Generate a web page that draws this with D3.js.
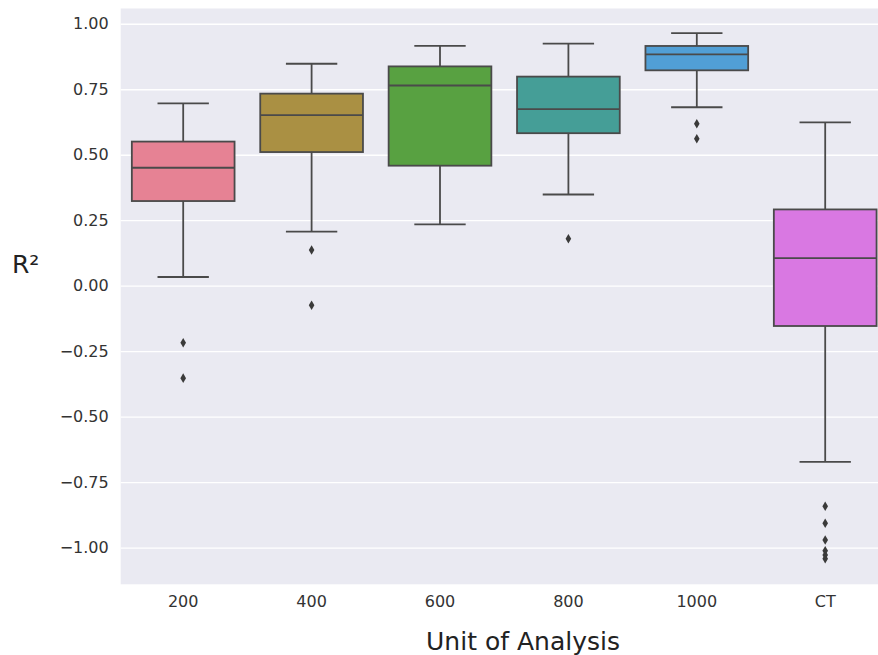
<!DOCTYPE html>
<html>
<head>
<meta charset="utf-8">
<script src="https://cdn.jsdelivr.net/npm/d3@7"></script>
<style>
  body { margin: 0; background: #fff; }
  svg { display: block; font-family: "DejaVu Sans", sans-serif; }
</style>
</head>
<body>
<div id="chart"></div>
<script>
// values
let categories = ["200", "400", "600", "800", "1000", "CT"];
let whiskerHigh = [0.696, 0.847, 0.915, 0.924, 0.964, 0.623];
let q3 = [0.550, 0.733, 0.837, 0.798, 0.915, 0.291];
let median = [0.450, 0.651, 0.764, 0.674, 0.883, 0.105];
let q1 = [0.323, 0.510, 0.458, 0.582, 0.822, -0.154];
let whiskerLow = [0.033, 0.206, 0.234, 0.348, 0.681, -0.673];
let outliers = [
    [-0.218, -0.353],
    [0.136, -0.075],
    [],
    [0.179],
    [0.618, 0.561],
    [-0.842, -0.907, -0.971, -1.012, -1.028, -1.042]
];
let yTicks = [1.00, 0.75, 0.50, 0.25, 0.00, -0.25, -0.50, -0.75, -1.00];
let palette = ["#f77189", "#bb9832", "#50b131", "#36ada4", "#3ba3ec", "#e866f4"];

let rows = categories.map((c, i) => ({
    name: c,
    hi: whiskerHigh[i], q3: q3[i], med: median[i], q1: q1[i], lo: whiskerLow[i],
    out: outliers[i]
}));

let width = 878;
let height = 655;
let plot = { left: 120.7, top: 8.5, bottom: 584.3 };
let font = "DejaVu Sans, sans-serif";

let x = d3.scaleBand()
    .domain(categories)
    .range([119, 889.4])
    .padding(0);

let y = d3.scaleLinear()
    .domain([-1.14, 1.058])
    .range([plot.bottom, plot.top]);

// seaborn boxplot desaturates its colours
function desat(c) {
    let h = d3.hsl(c);
    h.s *= 0.75;
    return h.formatHex();
}
let color = d3.scaleOrdinal().domain(categories).range(palette.map(desat));

let svg = d3.select("#chart")
    .append("svg")
    .attr("width", width)
    .attr("height", height);

svg.append("rect")
    .attr("x", plot.left)
    .attr("y", plot.top)
    .attr("width", width - plot.left)
    .attr("height", plot.bottom - plot.top)
    .attr("fill", "#eaeaf2");

let yAxis = g => g
    .attr("transform", `translate(${plot.left},0)`)
    .call(d3.axisLeft(y).tickValues(yTicks).tickSize(0).tickPadding(12))
    .attr("font-family", font)
    .attr("font-size", 16)
    .call(g => g.select(".domain").remove())
    .call(g => g.selectAll(".tick text")
        .attr("fill", "#333")
        .text(d => d3.format(".2f")(d).replace("-", "\u2212")))
    .call(g => g.selectAll(".tick line").clone()
        .attr("x2", width - plot.left)
        .attr("stroke", "#fff")
        .attr("stroke-width", 1.4));

let xAxis = g => g
    .attr("transform", `translate(0,${plot.bottom})`)
    .call(d3.axisBottom(x).tickSize(0).tickPadding(11))
    .attr("font-family", font)
    .attr("font-size", 16)
    .call(g => g.select(".domain").remove())
    .call(g => g.selectAll(".tick text").attr("fill", "#333"));

svg.append("g").call(yAxis);
svg.append("g").call(xAxis);

let boxW = x.bandwidth() * 0.8;
let capW = boxW / 2;
let line = "#4a4a4a";

let box = svg.append("g")
    .selectAll("g")
    .data(rows)
    .join("g")
    .attr("transform", d => `translate(${x(d.name) + x.bandwidth() / 2},0)`);

// whiskers
box.append("line")
    .attr("y1", d => y(d.q3)).attr("y2", d => y(d.hi))
    .attr("stroke", line).attr("stroke-width", 1.8);
box.append("line")
    .attr("y1", d => y(d.q1)).attr("y2", d => y(d.lo))
    .attr("stroke", line).attr("stroke-width", 1.8);
box.append("line")
    .attr("x1", -capW / 2).attr("x2", capW / 2)
    .attr("y1", d => y(d.hi)).attr("y2", d => y(d.hi))
    .attr("stroke", line).attr("stroke-width", 1.8);
box.append("line")
    .attr("x1", -capW / 2).attr("x2", capW / 2)
    .attr("y1", d => y(d.lo)).attr("y2", d => y(d.lo))
    .attr("stroke", line).attr("stroke-width", 1.8);

box.append("rect")
    .attr("x", -boxW / 2)
    .attr("width", boxW)
    .attr("y", d => y(d.q3))
    .attr("height", d => y(d.q1) - y(d.q3))
    .attr("fill", d => color(d.name))
    .attr("stroke", line)
    .attr("stroke-width", 1.8);

box.append("line")
    .attr("x1", -boxW / 2).attr("x2", boxW / 2)
    .attr("y1", d => y(d.med)).attr("y2", d => y(d.med))
    .attr("stroke", line).attr("stroke-width", 1.8);

// outliers as thin diamonds
box.selectAll("path")
    .data(d => d.out)
    .join("path")
    .attr("d", v => `M0,${y(v) - 4.8}L2.8,${y(v)}L0,${y(v) + 4.8}L-2.8,${y(v)}Z`)
    .attr("fill", "#3a3a3a");

svg.append("text")
    .attr("x", 12)
    .attr("y", 273)
    .attr("font-size", 25)
    .attr("fill", "#222")
    .text("R²");

svg.append("text")
    .attr("x", 523)
    .attr("y", 650)
    .attr("text-anchor", "middle")
    .attr("font-size", 25)
    .attr("fill", "#222")
    .text("Unit of Analysis");
</script>
</body>
</html>
